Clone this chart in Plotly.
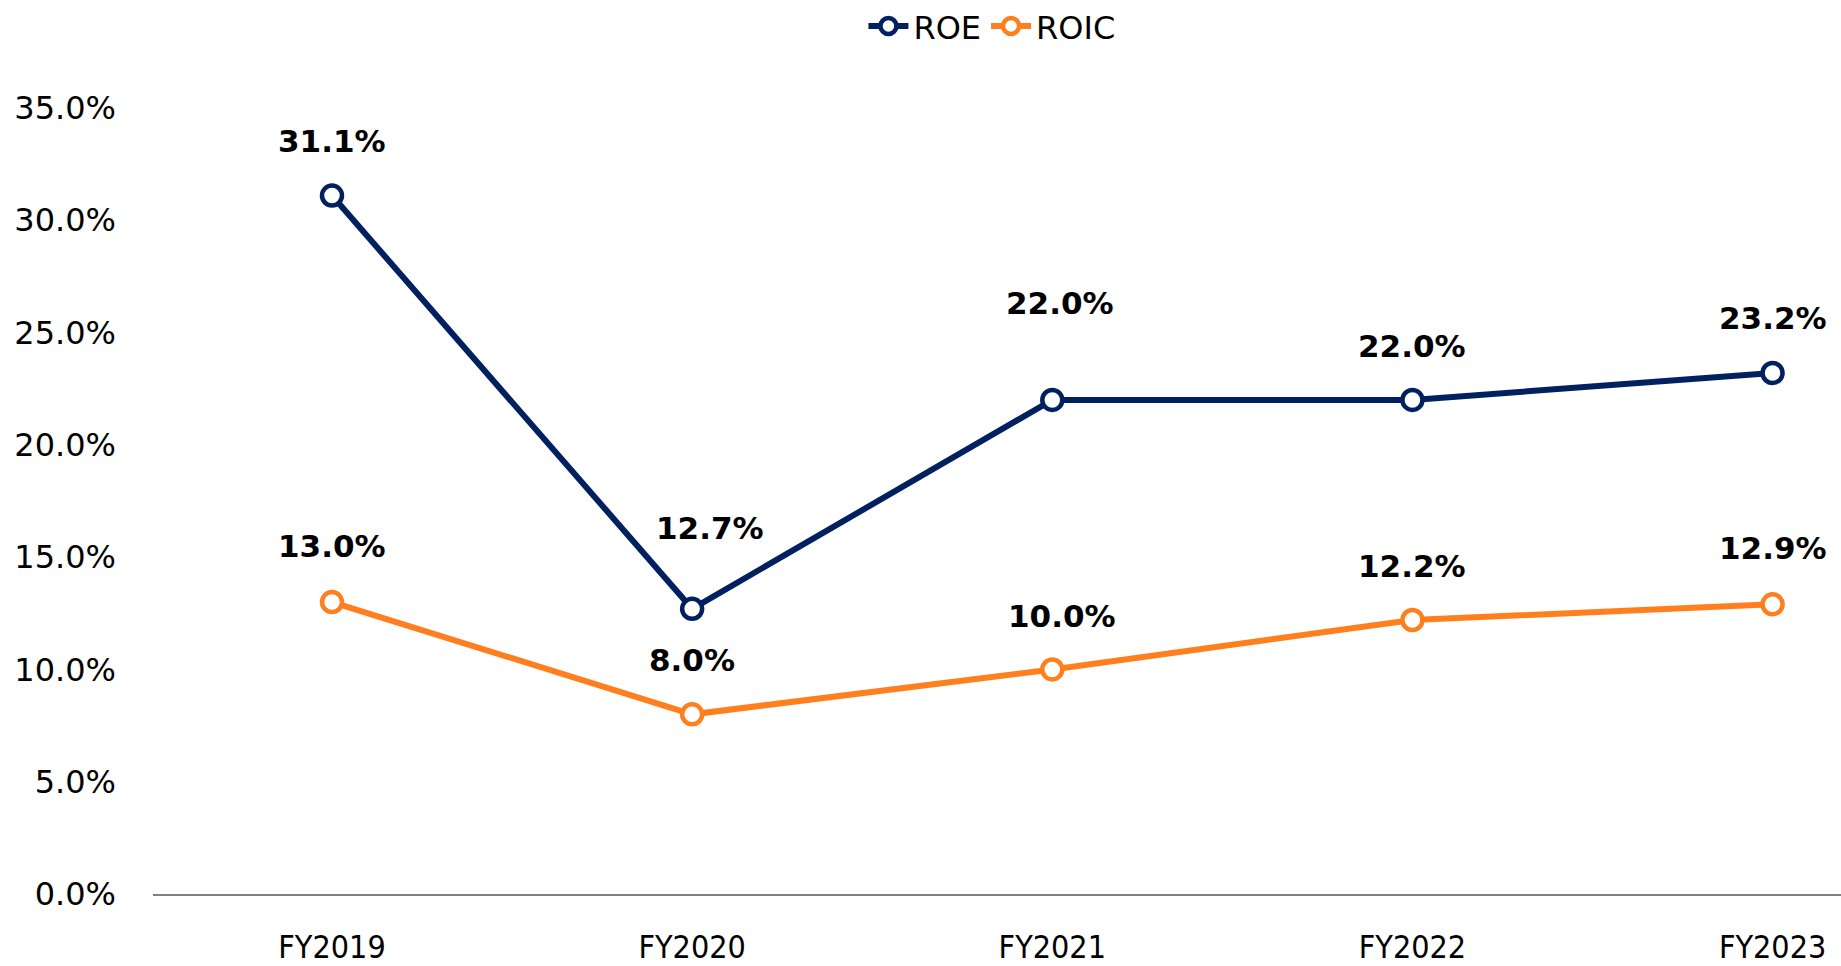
import plotly.graph_objects as go

# Fiscal years and return metrics (%)
years = ["FY2019", "FY2020", "FY2021", "FY2022", "FY2023"]
roe = [31.1, 12.7, 22.0, 22.0, 23.2]
roic = [13.0, 8.0, 10.0, 12.2, 12.9]

# Value-label offsets (pixels) relative to each point
roe_label_dy = [55, 81, 97, 54, 55]
roe_label_dx = [0, 18, 8, 0, 0]
roic_label_dy = [56, 54, 53, 54, 56]
roic_label_dx = [0, 0, 10, 0, 0]

NAVY = "#002060"
ORANGE = "#FF7F1E"

x = list(range(len(years)))

fig = go.Figure()
for name, vals, color in [("ROE", roe, NAVY), ("ROIC", roic, ORANGE)]:
    fig.add_trace(go.Scatter(
        x=x, y=vals, name=name, mode="lines+markers",
        line=dict(color=color, width=6),
        marker=dict(symbol="circle", size=20, color="white",
                    line=dict(color=color, width=4.5)),
        cliponaxis=False, hoverinfo="skip",
    ))

annotations = []
for vals, dys, dxs in [(roe, roe_label_dy, roe_label_dx), (roic, roic_label_dy, roic_label_dx)]:
    for i, v in enumerate(vals):
        annotations.append(dict(
            x=i, y=v, text=f"<b>{v:.1f}%</b>", showarrow=False,
            xanchor="center", yanchor="middle", yshift=dys[i], xshift=dxs[i],
            font=dict(family="DejaVu Sans, Verdana, sans-serif", size=31, color="#000000"),
        ))

fig.update_layout(
    width=1841, height=966,
    margin=dict(l=153, r=0, t=108, b=72, autoexpand=False),
    paper_bgcolor="white", plot_bgcolor="white",
    showlegend=True,
    legend=dict(orientation="h", x=0.497, xanchor="center", y=1.104, yanchor="middle",
                font=dict(family="DejaVu Sans, Verdana, sans-serif", size=32, color="#000000"),
                itemwidth=40, traceorder="normal"),
    annotations=annotations,
    xaxis=dict(
        tickmode="array", tickvals=x, ticktext=years,
        range=[-0.497, 4.19], showgrid=False, zeroline=False,
        showline=True, linecolor="#808080", linewidth=2,
        ticks="", ticklabelstandoff=24, automargin=False,
        tickfont=dict(family="Liberation Sans Narrow, Arial Narrow, DejaVu Sans Condensed, sans-serif",
                      size=32, color="#000000"),
        fixedrange=True,
    ),
    yaxis=dict(
        range=[0, 35], tickmode="linear", tick0=0, dtick=5,
        tickformat=".1f", ticksuffix="%",
        showgrid=False, zeroline=False, showline=False, ticks="",
        ticklabelstandoff=36, automargin=False,
        tickfont=dict(family="DejaVu Sans, Verdana, sans-serif", size=32, color="#000000"),
        fixedrange=True,
    ),
)

fig.write_html("out.html", config={"displayModeBar": False})
